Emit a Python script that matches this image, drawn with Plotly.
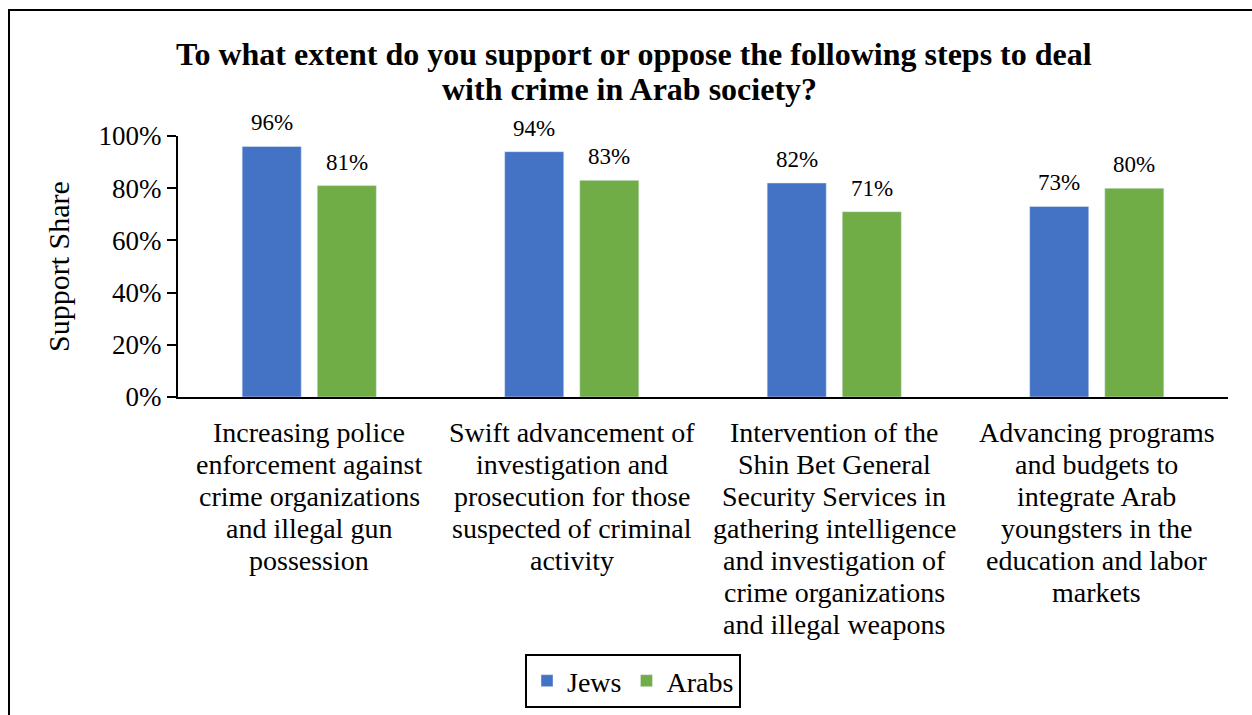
import plotly.graph_objects as go

categories = [
    "Increasing police<br>enforcement against<br>crime organizations<br>and illegal gun<br>possession",
    "Swift advancement of<br>investigation and<br>prosecution for those<br>suspected of criminal<br>activity",
    "Intervention of the<br>Shin Bet General<br>Security Services in<br>gathering intelligence<br>and investigation of<br>crime organizations<br>and illegal weapons",
    "Advancing programs<br>and budgets to<br>integrate Arab<br>youngsters in the<br>education and labor<br>markets",
]
jews = [96, 94, 82, 73]
arabs = [81, 83, 71, 80]
y_ticks = [0, 20, 40, 60, 80, 100]
y_tick_labels = ["0%", "20%", "40%", "60%", "80%", "100%"]
title_lines = [
    "To what extent do you support or oppose the following steps to deal",
    "with crime in Arab society?",
]

BLUE = "#4472C4"
GREEN = "#70AD47"
FONT = "Liberation Serif, Times New Roman, serif"

W, H = 1252, 715
ML, MR, MT, MB = 178, 24, 136, 318
pw, ph = W - ML - MR, H - MT - MB


def px_x(p):
    return (p - ML) / pw


def px_y(p):
    return (H - MB - p) / ph


fig = go.Figure()
fig.add_trace(go.Bar(name="Jews", x=categories, y=jews, marker_color=BLUE))
fig.add_trace(go.Bar(name="Arabs", x=categories, y=arabs, marker_color=GREEN))

# value labels above each bar
for cat, vj, va in zip(categories, jews, arabs):
    for v, dx in ((vj, -37.5), (va, 37.5)):
        fig.add_annotation(
            x=cat, y=v, xref="x", yref="y", text=f"{v}%", showarrow=False,
            xshift=dx, yshift=9, yanchor="bottom",
            font=dict(family=FONT, size=23, color="black"),
        )

# category labels, one line at a time for a tight line pitch
LINE_TOP, LINE_PITCH = 432, 32
for cat in categories:
    for i, line in enumerate(cat.split("<br>")):
        fig.add_annotation(
            x=cat, xref="x", y=px_y(LINE_TOP + i * LINE_PITCH), yref="paper",
            text=line, showarrow=False, xanchor="center", yanchor="middle",
            font=dict(family=FONT, size=28, color="black"),
        )

# two-line bold heading
for line, cx, cy in zip(title_lines, (634, 629), (54, 89)):
    fig.add_annotation(
        x=px_x(cx), xref="paper", y=px_y(cy), yref="paper",
        text=f"<b>{line}</b>", showarrow=False,
        xanchor="center", yanchor="middle",
        font=dict(family=FONT, size=32, color="black"),
    )

# outer frame around the chart
fig.add_shape(
    type="rect", xref="paper", yref="paper",
    x0=px_x(9), x1=px_x(1262), y0=px_y(725), y1=px_y(10),
    line=dict(color="black", width=2), fillcolor="rgba(0,0,0,0)",
)

fig.update_layout(
    width=W, height=H,
    margin=dict(l=ML, r=MR, t=MT, b=MB),
    paper_bgcolor="white", plot_bgcolor="white",
    barmode="group", bargap=0.428, bargroupgap=0.213,
    font=dict(family=FONT, color="black"),
    yaxis=dict(
        range=[0, 100], tickvals=y_ticks, ticktext=y_tick_labels,
        showgrid=False, zeroline=False,
        showline=True, linecolor="black", linewidth=2,
        ticks="outside", ticklen=9, tickwidth=1.5, tickcolor="black",
        tickfont=dict(family=FONT, size=27, color="black"),
        title=dict(text="Support Share", font=dict(family=FONT, size=30, color="black"), standoff=20),
    ),
    xaxis=dict(
        showgrid=False, showline=True, linecolor="black", linewidth=2,
        ticks="", showticklabels=False,
    ),
    legend=dict(
        orientation="h", xref="container", yref="container",
        x=633 / W, xanchor="center", y=1 - 654 / H, yanchor="top",
        bordercolor="black", borderwidth=2,
        font=dict(family=FONT, size=28, color="black"),
        itemwidth=30, traceorder="normal",
    ),
)

fig.write_html("out.html")
